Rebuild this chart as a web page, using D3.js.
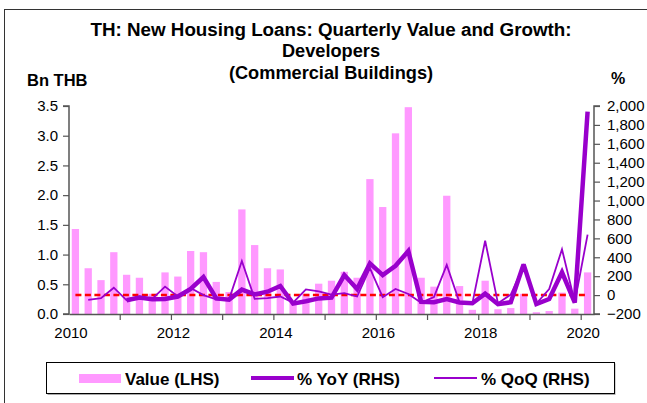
<!DOCTYPE html>
<html>
<head>
<meta charset="utf-8">
<script src="https://cdn.jsdelivr.net/npm/d3@7"></script>
<style>
  html, body { margin: 0; padding: 0; background: #fff; }
  svg { display: block; font-family: Arial, "Liberation Sans", sans-serif; }
</style>
</head>
<body>
<svg id="chart" width="647" height="403"></svg>
<script>
const quarters = ["2010Q1","2010Q2","2010Q3","2010Q4","2011Q1","2011Q2","2011Q3","2011Q4",
  "2012Q1","2012Q2","2012Q3","2012Q4","2013Q1","2013Q2","2013Q3","2013Q4",
  "2014Q1","2014Q2","2014Q3","2014Q4","2015Q1","2015Q2","2015Q3","2015Q4",
  "2016Q1","2016Q2","2016Q3","2016Q4","2017Q1","2017Q2","2017Q3","2017Q4",
  "2018Q1","2018Q2","2018Q3","2018Q4","2019Q1","2019Q2","2019Q3","2019Q4","2020Q1"];
const valueBn = [1.43,0.77,0.57,1.04,0.66,0.61,0.34,0.70,0.63,1.06,1.04,0.54,0.37,1.76,1.16,0.77,
  0.75,0.20,0.34,0.51,0.56,0.71,0.61,2.27,1.80,3.04,3.48,0.61,0.46,1.99,0.47,0.07,
  0.56,0.08,0.10,0.34,0.03,0.05,0.36,0.09,0.70];
const yoyPct = [null,null,null,null,-55,-25,-45,-42,-15,65,190,-35,-48,58,8,36,
  96,-90,-65,-35,-27,212,64,335,212,310,466,-72,-76,-41,-78,-87,
  15,-96,-76,325,-95,-41,241,-80,1940];
const qoqPct = [null,-50,-33,78,-55,-15,-40,90,-15,75,0,-45,-45,360,-40,-33,
  -15,-80,60,40,5,20,-15,285,-22,65,12,-80,-22,320,-78,-87,
  575,-87,5,310,-90,64,485,-75,640];
const zeroLine = quarters.map(() => 0);
const leftTicks = [0,0.5,1,1.5,2,2.5,3,3.5];
const rightTicks = [-200,0,200,400,600,800,1000,1200,1400,1600,1800,2000];
const yearLabels = ["2010","2012","2014","2016","2018","2020"];
const titleLines = ["TH: New Housing Loans: Quarterly Value and Growth:","Developers","(Commercial Buildings)"];
const legendItems = ["Value (LHS)","% YoY (RHS)","% QoQ (RHS)"];

const svg = d3.select("#chart");
const L = 69, R = 594, T = 106, B = 314;
const barColor = "#FF99FF", lineColor = "#9900CC";

// outer frame
svg.append("rect").attr("x",4.5).attr("y",9.5).attr("width",700).attr("height",500)
  .attr("fill","none").attr("stroke","#333").attr("stroke-width",1);

const x = d3.scaleBand().domain(quarters).range([L,R]).paddingInner(0.43).paddingOuter(0.215);
const yL = d3.scaleLinear().domain([0,3.5]).range([B,T]);
const yR = d3.scaleLinear().domain([-200,2000]).range([B,T]);
const cx = q => x(q) + x.bandwidth()/2;

// title
const titleSizes = [18.8,18.2,18.2];
svg.append("g").selectAll("text").data(titleLines).join("text")
  .attr("x",331).attr("y",(d,i)=>35.5+i*21.5).attr("text-anchor","middle")
  .attr("font-size",(d,i)=>titleSizes[i]).attr("font-weight","bold").attr("fill","#000").text(d=>d);
svg.append("text").attr("x",27).attr("y",86).attr("font-size",16.5).attr("font-weight","bold").text("Bn THB");
svg.append("text").attr("x",611).attr("y",84).attr("font-size",16).attr("font-weight","bold").text("%");

// bars
svg.append("g").selectAll("rect").data(quarters).join("rect")
  .attr("x",d=>x(d)).attr("width",x.bandwidth())
  .attr("y",(d,i)=>yL(valueBn[i])).attr("height",(d,i)=>B-yL(valueBn[i]))
  .attr("fill",barColor);

// zero dashed line
svg.append("path").datum(zeroLine)
  .attr("d",d3.line().x((d,i)=>cx(quarters[i])).y(d=>yR(d)))
  .attr("fill","none").attr("stroke","#FF0000").attr("stroke-width",2.5).attr("stroke-dasharray","6,3.5");

const lineGen = d3.line().defined(d=>d!=null).x((d,i)=>cx(quarters[i])).y(d=>yR(d));
svg.append("path").datum(yoyPct).attr("d",lineGen)
  .attr("fill","none").attr("stroke",lineColor).attr("stroke-width",4.5).attr("stroke-linejoin","miter").attr("stroke-miterlimit",3);
svg.append("path").datum(qoqPct).attr("d",lineGen)
  .attr("fill","none").attr("stroke",lineColor).attr("stroke-width",1.8);

// axes
const axisColor = "#555";
const gL = svg.append("g").attr("transform",`translate(${L},0)`)
  .call(d3.axisLeft(yL).tickValues(leftTicks).tickFormat(d3.format(".1f")).tickSize(6).tickPadding(5));
const gR = svg.append("g").attr("transform",`translate(${R},0)`)
  .call(d3.axisRight(yR).tickValues(rightTicks).tickFormat(d3.format(",")).tickSize(6).tickPadding(7));
const yearTickQuarters = quarters.filter((q,i)=>i%4===0 && i>0);
const gB = svg.append("g").attr("transform",`translate(0,${B})`)
  .call(d3.axisBottom(x).tickValues(yearTickQuarters).tickFormat("").tickSize(6).tickSizeOuter(0));
gB.selectAll(".tick").attr("transform",d=>`translate(${L + quarters.indexOf(d)*x.step()},0)`);
[gL,gR,gB].forEach(g=>{
  g.select(".domain").attr("stroke",axisColor).attr("stroke-width",1.5);
  g.selectAll(".tick line").attr("stroke",axisColor).attr("stroke-width",1.2);
  g.selectAll("text").attr("font-size",15).attr("fill","#000").attr("font-family","Arial, 'Liberation Sans', sans-serif");
});
gL.select(".domain").attr("d",`M-6,${T}H0V${B}H-6`);
gR.select(".domain").attr("d",`M6,${T}H0V${B}H6`);

// year labels
svg.append("g").selectAll("text").data(yearLabels).join("text")
  .attr("x",(d,i)=>L + i*8*x.step() + 2).attr("y",338).attr("text-anchor","middle")
  .attr("font-size",15).text(d=>d);

// legend
const lg = svg.append("g");
lg.append("rect").attr("x",47.5).attr("y",363.5).attr("width",568).attr("height",31.5).attr("fill","#aaa");
lg.append("rect").attr("x",46.5).attr("y",362.5).attr("width",568).attr("height",31).attr("fill","#fff").attr("stroke","#000").attr("stroke-width",1);
lg.append("rect").attr("x",79).attr("y",374).attr("width",42).attr("height",9).attr("fill",barColor);
lg.append("line").attr("x1",251).attr("x2",294).attr("y1",378).attr("y2",378).attr("stroke",lineColor).attr("stroke-width",4);
lg.append("line").attr("x1",434).attr("x2",477).attr("y1",378).attr("y2",378).attr("stroke",lineColor).attr("stroke-width",1.8);
const legX = [125,297,481];
lg.selectAll("text").data(legendItems).join("text")
  .attr("x",(d,i)=>legX[i]).attr("y",384.5).attr("font-size",17).attr("font-weight","bold").text(d=>d);
</script>
</body>
</html>
